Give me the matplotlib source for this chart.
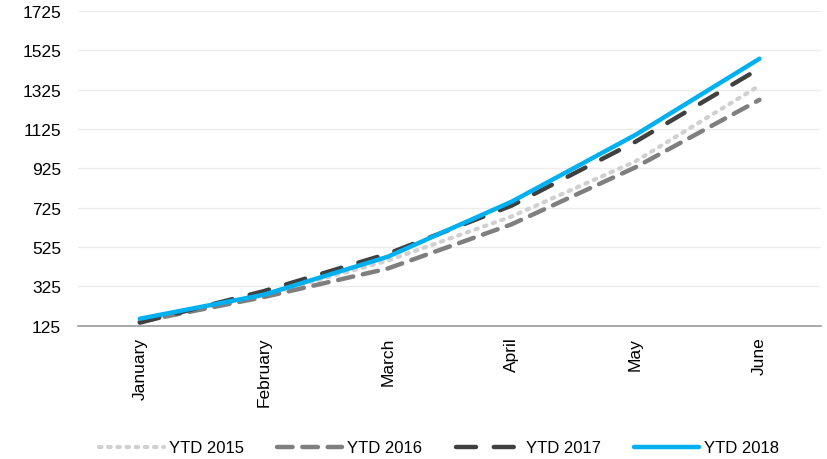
import matplotlib.pyplot as plt

plt.rcParams.update({'font.family': 'Liberation Sans'})

months = ["January", "February", "March", "April", "May", "June"]
ytd_2015 = [150, 280, 455, 680, 960, 1345]
ytd_2016 = [145, 270, 415, 640, 930, 1273]
ytd_2017 = [140, 300, 490, 735, 1060, 1432]
ytd_2018 = [160, 282, 475, 755, 1095, 1482]

fig = plt.figure(figsize=(8.28, 4.6), dpi=100)
ax = fig.add_axes([0.094, 0.29, 0.898, 0.684])

x = range(len(months))
ax.plot(x, ytd_2015, color="#d0d0d0", lw=3, ls=(0, (0.6, 1.6)),
        dash_capstyle="round", label="YTD 2015")
ax.plot(x, ytd_2016, color="#7f7f7f", lw=3.2, ls=(0, (3.5, 2.2)),
        dash_capstyle="round", label="YTD 2016")
ax.plot(x, ytd_2017, color="#404040", lw=3.2, ls=(0, (4.5, 4)),
        dash_capstyle="round", label="YTD 2017")
ax.plot(x, ytd_2018, color="#00b0f0", lw=3.2, solid_capstyle="round",
        label="YTD 2018")

ax.set_xlim(-0.5, 5.5)
ax.set_ylim(125, 1725)
ax.set_yticks(range(125, 1726, 200))
ax.set_xticks(list(x))
ax.set_xticklabels(months, rotation=90, va="top", fontsize=12.5)
ax.tick_params(axis="y", labelsize=12.5, length=0, pad=12)
ax.tick_params(axis="x", length=0, pad=8)

ax.grid(axis="y", color="#ececec", lw=1)
ax.set_axisbelow(True)
for s in ["top", "right", "left"]:
    ax.spines[s].set_visible(False)
ax.spines["bottom"].set_color("#9a9a9a")
ax.spines["bottom"].set_linewidth(1.2)

fig.legend(loc="lower center", ncol=4, frameon=False, fontsize=12,
           handlelength=3.9, columnspacing=2.0, handletextpad=0.3,
           bbox_to_anchor=(0.53, -0.025))

fig.savefig("out.png", dpi=100)
